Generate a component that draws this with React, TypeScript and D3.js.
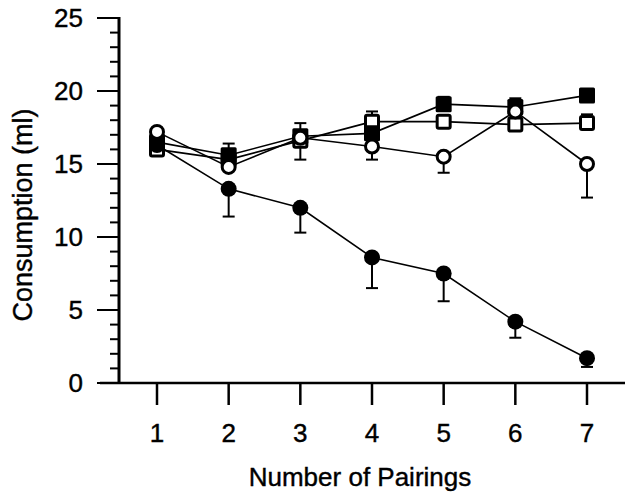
import React from "react";
import * as d3 from "d3";

const pairings = [1, 2, 3, 4, 5, 6, 7];
const yTicks = [0, 5, 10, 15, 20, 25];

const filledCircle = [16.3, 13.3, 12.0, 8.6, 7.5, 4.2, 1.7];
const filledCircleErr = [0, -1.9, -1.7, -2.1, -1.9, -1.1, -0.6];
const openCircle = [17.2, 14.8, 16.8, 16.2, 15.5, 18.6, 15.0];
const openCircleErr = [0, 0, 0, -0.9, -1.1, 0, -2.3];
const filledSquare = [16.5, 15.6, 16.9, 17.1, 19.1, 18.9, 19.7];
const filledSquareErr = [0, 0.8, 0.9, 0, 0.5, 0.6, 0.3];
const openSquare = [16.0, 15.3, 16.6, 17.9, 17.9, 17.7, 17.8];
const openSquareErr = [0, 0, -1.3, 0.7, 0, 0, 0.6];

type Series = { name: string; values: number[]; err: number[]; shape: "circle" | "square"; filled: boolean };

const series: Series[] = [
  { name: "openSquare", values: openSquare, err: openSquareErr, shape: "square", filled: false },
  { name: "filledSquare", values: filledSquare, err: filledSquareErr, shape: "square", filled: true },
  { name: "openCircle", values: openCircle, err: openCircleErr, shape: "circle", filled: false },
  { name: "filledCircle", values: filledCircle, err: filledCircleErr, shape: "circle", filled: true },
];

export default function App() {
  const W = 625, H = 493;
  const x = d3.scaleLinear().domain([1, 7]).range([157, 587]);
  const y = d3.scaleLinear().domain([0, 25]).range([383, 18]);
  const axisX = 119;
  const font = "'Liberation Sans', Arial, Helvetica, sans-serif";
  const line = d3.line<number>().x((_, i) => x(pairings[i])).y((v) => y(v));
  const minor = d3.range(0, 26);
  const txt = { fontFamily: font, fill: "#000", stroke: "#000", strokeWidth: 0.4 };

  return (
    <svg width={W} height={H} style={{ position: "absolute", left: 0, top: 0, background: "#fff" }}>
      <rect width={W} height={H} fill="#fff" />
      {/* y axis */}
      <line x1={axisX} x2={axisX} y1={y(25) - 1} y2={y(0) + 1} stroke="#000" strokeWidth={3} />
      {minor.map((v) => (
        <line key={"m" + v} x1={axisX - (v % 5 === 0 ? 22 : 9)} x2={axisX} y1={y(v)} y2={y(v)} stroke="#000" strokeWidth={2} />
      ))}
      {yTicks.map((v) => (
        <text key={"yt" + v} x={83} y={y(v)} textAnchor="end" dominantBaseline="central" fontSize={26} {...txt}>
          {v}
        </text>
      ))}
      <text
        transform={`translate(23,215) rotate(-90)`}
        textAnchor="middle"
        dominantBaseline="central"
        fontSize={27}
        {...txt}
      >
        Consumption (ml)
      </text>
      {/* x axis */}
      <line x1={100} x2={625} y1={y(0)} y2={y(0)} stroke="#000" strokeWidth={2.5} />
      {pairings.map((p) => (
        <line key={"xt" + p} x1={x(p)} x2={x(p)} y1={y(0)} y2={y(0) + 22} stroke="#000" strokeWidth={2.5} />
      ))}
      {pairings.map((p) => (
        <text key={"xl" + p} x={x(p)} y={433} textAnchor="middle" dominantBaseline="central" fontSize={26} {...txt}>
          {p}
        </text>
      ))}
      <text x={360} y={477} textAnchor="middle" dominantBaseline="central" fontSize={26} {...txt}>
        Number of Pairings
      </text>
      {/* error bars */}
      {series.map((s) =>
        s.values.map((v, i) =>
          s.err[i] !== 0 ? (
            <g key={s.name + "e" + i} stroke="#000" strokeWidth={2}>
              <line x1={x(pairings[i])} x2={x(pairings[i])} y1={y(v)} y2={y(v + s.err[i])} />
              <line x1={x(pairings[i]) - 6} x2={x(pairings[i]) + 6} y1={y(v + s.err[i])} y2={y(v + s.err[i])} />
            </g>
          ) : null
        )
      )}
      {/* lines */}
      {series.map((s) => (
        <path key={s.name + "l"} d={line(s.values) || ""} fill="none" stroke="#000" strokeWidth={1.6} />
      ))}
      {/* markers */}
      {series.map((s) =>
        s.values.map((v, i) =>
          s.shape === "circle" ? (
            <circle
              key={s.name + "p" + i}
              cx={x(pairings[i])}
              cy={y(v)}
              r={s.filled ? 8 : 6.5}
              fill={s.filled ? "#000" : "#fff"}
              stroke="#000"
              strokeWidth={s.filled ? 0 : 3}
            />
          ) : (
            <rect
              key={s.name + "p" + i}
              x={x(pairings[i]) - (s.filled ? 8 : 6.5)}
              y={y(v) - (s.filled ? 8 : 6.5)}
              width={s.filled ? 16 : 13}
              height={s.filled ? 16 : 13}
              rx={1.5}
              fill={s.filled ? "#000" : "#fff"}
              stroke="#000"
              strokeWidth={s.filled ? 0 : 3}
            />
          )
        )
      )}
    </svg>
  );
}
